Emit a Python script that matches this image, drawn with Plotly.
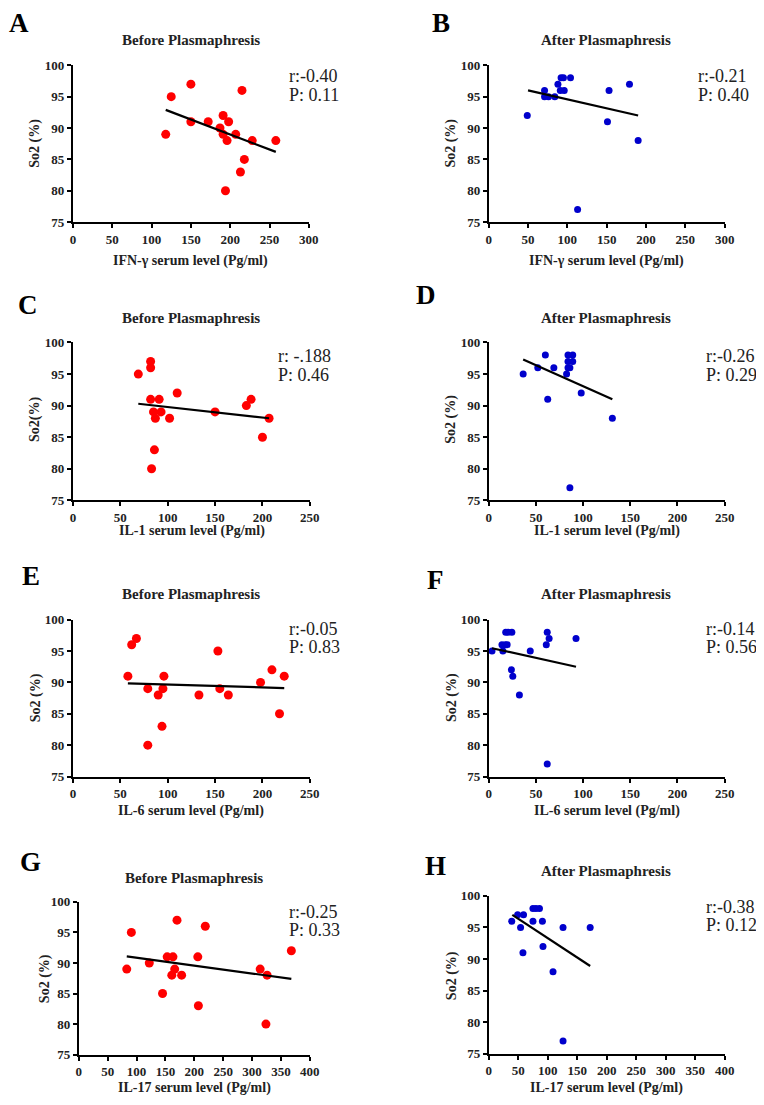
import plotly.graph_objects as go

W, H = 764, 1105
OFF = 8  # the page places the figure 8 px from the top-left corner

# ---------------- data ----------------
A_x = [118, 125, 150, 150, 172, 187, 191, 191, 196, 198, 207, 215, 213, 218, 194, 228, 258]
A_y = [89, 95, 97, 91, 91, 90, 92, 89, 88, 91, 89, 96, 83, 85, 80, 88, 88]
A_fit_x = [118, 258]
A_fit_y = [92.9, 86.2]

B_x = [49, 71, 71, 76, 84, 88, 91, 92, 95, 104, 96, 153, 151, 179, 190, 113]
B_y = [92, 96, 95, 95, 95, 97, 96, 98, 98, 98, 96, 96, 91, 97, 88, 77]
B_fit_x = [50, 190]
B_fit_y = [96.0, 92.0]

C_x = [69, 82, 82, 82, 91, 85, 93, 87, 102, 110, 86, 83, 150, 183, 188, 200, 207]
C_y = [95, 97, 96, 91, 91, 89, 89, 88, 88, 92, 83, 80, 89, 90, 91, 85, 88]
C_fit_x = [69, 207]
C_fit_y = [90.3, 88.0]

D_x = [36.5, 52, 60, 62.5, 69, 84, 89, 84, 89, 84, 86, 82.5, 98, 131, 86]
D_y = [95, 96, 98, 91, 96, 98, 98, 97, 97, 96, 96, 95, 92, 88, 77]
D_fit_x = [36.5, 131]
D_fit_y = [97.3, 91.0]

E_x = [58, 62, 67, 79, 79, 90, 94, 95, 96, 133, 153, 155, 164, 198, 210, 218, 223]
E_y = [91, 96, 97, 89, 80, 88, 83, 89, 91, 88, 95, 89, 88, 90, 92, 85, 91]
E_fit_x = [58, 223]
E_fit_y = [89.85, 89.1]

F_x = [3.5, 15, 14, 17.5, 19.5, 18, 20.5, 24.5, 24, 25.5, 32.5, 44, 61, 62, 64, 92.5, 62]
F_y = [95, 95, 96, 96, 96, 98, 98, 98, 92, 91, 88, 95, 96, 98, 97, 97, 77]
F_fit_x = [3.5, 92.5]
F_fit_y = [95.45, 92.5]

G_x = [83, 91, 122, 145, 153, 163, 170, 161, 166, 178, 206, 207, 219, 314, 326, 324, 368]
G_y = [89, 95, 90, 85, 91, 91, 97, 88, 89, 88, 91, 83, 96, 89, 88, 80, 92]
G_fit_x = [83, 368]
G_fit_y = [91.07, 87.4]

H_x = [39, 49, 54, 59, 58, 75, 80, 86, 75, 91, 92, 109, 126, 126, 172]
H_y = [96, 97, 95, 97, 91, 98, 98, 98, 96, 96, 92, 88, 95, 77, 95]
H_fit_x = [40, 172]
H_fit_y = [97.0, 88.9]

letters = ["A", "B", "C", "D", "E", "F", "G", "H"]
titles = ["Before Plasmaphresis", "After Plasmaphresis"] * 4
x_titles = ["IFN-γ serum level (Pg/ml)", "IFN-γ serum level (Pg/ml)",
            "IL-1 serum level (Pg/ml)", "IL-1 serum level (Pg/ml)",
            "IL-6 serum level (Pg/ml)", "IL-6 serum level (Pg/ml)",
            "IL-17 serum level (Pg/ml)", "IL-17 serum level (Pg/ml)"]
y_titles = ["So2 (%)", "So2 (%)", "So2(%)", "So2 (%)", "So2 (%)", "So2 (%)", "So2 (%)", "So2 (%)"]
r_texts = ["r:-0.40", "r:-0.21", "r: -.188", "r:-0.26", "r:-0.05", "r:-0.14", "r:-0.25", "r:-0.38"]
p_texts = ["P: 0.11", "P: 0.40", "P: 0.46", "P: 0.29", "P: 0.83", "P: 0.56", "P: 0.33", "P: 0.12"]
x_max = [300, 300, 250, 250, 250, 250, 400, 400]
x_dtick = [50, 50, 50, 50, 50, 50, 50, 50]
y_range = [75, 100]

xs = [A_x, B_x, C_x, D_x, E_x, F_x, G_x, H_x]
ys = [A_y, B_y, C_y, D_y, E_y, F_y, G_y, H_y]
fxs = [A_fit_x, B_fit_x, C_fit_x, D_fit_x, E_fit_x, F_fit_x, G_fit_x, H_fit_x]
fys = [A_fit_y, B_fit_y, C_fit_y, D_fit_y, E_fit_y, F_fit_y, G_fit_y, H_fit_y]

RED = "#FF0000"
BLUE = "#0000CC"

# ---------------- layout geometry (target pixels on the page) ----------------
boxes = [(71, 311, 59, 218), (494, 734, 59, 218),
         (71, 312, 340, 500), (494, 734, 340, 500),
         (71, 312, 621, 780), (494, 734, 621, 780),
         (77, 312, 907, 1062), (494, 734, 901, 1061)]
letter_pos = [(16, 16), (445, 16), (25, 302), (430, 292),
              (28, 577), (440, 581), (28, 867), (440, 871)]
title_pos = [(191, 33), (613, 33), (191, 315), (613, 315),
             (191, 595), (613, 595), (194, 883), (613, 876)]
xt_pos = [(191, 257), (614, 257), (192, 531), (614, 531),
          (191, 815), (614, 815), (195, 1096), (614, 1096)]
yt_pos = [(33, 138), (456, 138), (33, 418), (456, 418),
          (33, 700), (456, 700), (42, 985), (456, 982)]
r_pos = [(289, 70), (705, 70), (278, 354), (713, 354),
         (289, 630), (713, 630), (289, 917), (713, 912)]
p_gap = 19


def px(x):
    return (x - OFF) / W


def py(y):
    return 1 - (y - OFF) / H


SERIF = "Liberation Serif"
fig = go.Figure()
annotations = []

for i in range(8):
    n = "" if i == 0 else str(i + 1)
    xa, ya = "x" + n, "y" + n
    color = RED if i % 2 == 0 else BLUE
    msize = 9 if i % 2 == 0 else 7
    fig.add_trace(go.Scatter(x=xs[i], y=ys[i], mode="markers", xaxis=xa, yaxis=ya,
                             marker=dict(color=color, size=msize, line=dict(width=0)),
                             showlegend=False, cliponaxis=False))
    fig.add_trace(go.Scatter(x=fxs[i], y=fys[i], mode="lines", xaxis=xa, yaxis=ya,
                             line=dict(color="black", width=2.2),
                             showlegend=False))
    l, r, t, b = boxes[i]
    axis_common = dict(showline=True, linecolor="black", linewidth=2,
                       ticks="outside", ticklen=4, tickwidth=2, tickcolor="black",
                       showgrid=False, zeroline=False,
                       tickfont=dict(family=SERIF, size=13, color="#222", weight="bold"))
    fig.update_layout(**{
        "xaxis" + n: dict(domain=[px(l), px(r)], range=[0, x_max[i]], dtick=x_dtick[i],
                          tick0=0, anchor=ya, **axis_common),
        "yaxis" + n: dict(domain=[py(b), py(t)], range=y_range, dtick=5, tick0=75,
                          anchor=xa, **axis_common),
    })
    annotations.append(dict(x=px(letter_pos[i][0]), y=py(letter_pos[i][1]), xref="paper", yref="paper",
                            text=letters[i], showarrow=False, xanchor="center", yanchor="middle",
                            font=dict(family=SERIF, size=27, color="black", weight="bold")))
    annotations.append(dict(x=px(title_pos[i][0]), y=py(title_pos[i][1]), xref="paper", yref="paper",
                            text=titles[i], showarrow=False, xanchor="center", yanchor="middle",
                            font=dict(family=SERIF, size=15, color="#222", weight="bold")))
    annotations.append(dict(x=px(xt_pos[i][0]), y=py(xt_pos[i][1]), xref="paper", yref="paper",
                            text=x_titles[i], showarrow=False, xanchor="center", yanchor="middle",
                            font=dict(family=SERIF, size=14, color="#222", weight="bold")))
    annotations.append(dict(x=px(yt_pos[i][0]), y=py(yt_pos[i][1]), xref="paper", yref="paper",
                            text=y_titles[i], showarrow=False, xanchor="center", yanchor="middle",
                            textangle=-90,
                            font=dict(family=SERIF, size=14, color="#222", weight="bold")))
    annotations.append(dict(x=px(r_pos[i][0]), y=py(r_pos[i][1]), xref="paper", yref="paper",
                            text=r_texts[i], showarrow=False, xanchor="left", yanchor="middle",
                            font=dict(family=SERIF, size=18, color="#222")))
    annotations.append(dict(x=px(r_pos[i][0]), y=py(r_pos[i][1] + p_gap), xref="paper", yref="paper",
                            text=p_texts[i], showarrow=False, xanchor="left", yanchor="middle",
                            font=dict(family=SERIF, size=18, color="#222")))

fig.update_layout(width=W, height=H, margin=dict(l=0, r=0, t=0, b=0),
                  plot_bgcolor="white", paper_bgcolor="white",
                  annotations=annotations)

fig.write_html("out.html", config={"displayModeBar": False})
